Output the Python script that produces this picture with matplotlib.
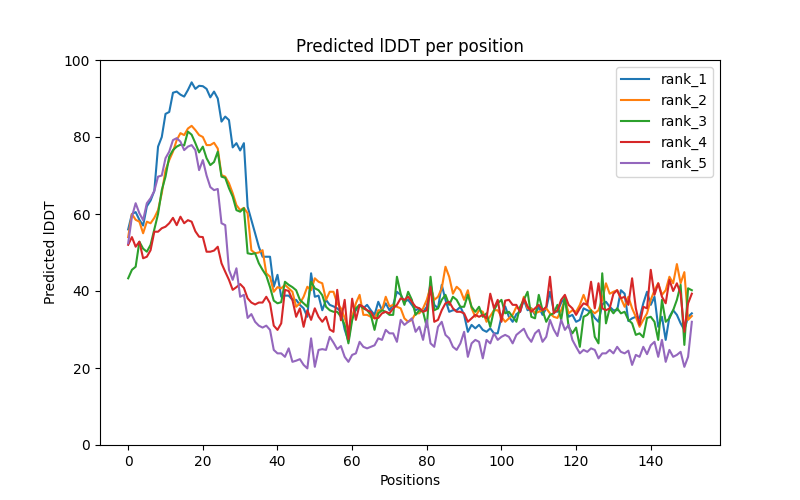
import matplotlib
matplotlib.use("Agg")
import matplotlib.pyplot as plt
import numpy as np

labels = ["rank_1", "rank_2", "rank_3", "rank_4", "rank_5"]

rank_1 = [
    56, 60, 60.5, 58.5, 57, 62, 63.5, 66, 77.5, 80,
    86, 86.5, 91.5, 91.8, 91, 90.5, 92.2, 94.2, 92.5, 93.3,
    93.2, 92.5, 90.3, 91.8, 90, 84, 85.3, 84.4, 77.3, 78.4,
    76.5, 78.4, 61.9, 58.5, 55, 51.5, 48.9, 48.9, 48.9, 41.1,
    44.2, 38.5, 38.8, 38.8, 37.7, 37.7, 36.4, 35.5, 33.3, 44.6,
    38.5, 38.8, 35, 37.7, 36.4, 36, 35.5, 34.6, 30, 27,
    33.5, 35, 36.4, 35.5, 36.4, 35, 33.8, 37.2, 35, 36.8,
    35, 36.4, 39.8, 39, 37.2, 37.7, 36.4, 35, 35.5, 34.6,
    35.9, 42, 36.4, 35.5, 41.6, 37.7, 34.6, 35, 35, 35.9,
    33.8, 29.4, 31.2, 30.3, 31.2, 29.9, 29.4, 30.3, 29, 29,
    33.3, 36, 33.3, 32, 34, 34.6, 37.7, 35, 35.5, 33.8,
    35.9, 33.8, 35.5, 39.8, 35, 34.6, 37, 38.1, 33.3, 33.8,
    32, 32.5, 35.5, 35, 34.6, 33, 32, 36.5, 37.2, 35.9,
    35, 35, 40.2, 39.3, 32.2, 32.9, 33.3, 32.9, 36.8, 39.8,
    36.4, 38.5, 30.7, 33.3, 27.3, 33.3, 35, 33.8, 31.6, 29.9,
    33.3, 34.2,
]

rank_2 = [
    54, 60, 58.5, 58, 55, 58, 57.6, 59, 61, 65.4,
    71.4, 74, 76.2, 79.2, 81, 80.5, 82.2, 82.9, 81.8, 80.5,
    80, 77.9, 77.9, 78.5, 77, 70.1, 69.7, 68, 65.4, 62.3,
    61, 61.6, 60.2, 50.6, 49.8, 50, 50.6, 44.6, 43.7, 39.8,
    41, 40.7, 41.6, 40.7, 39.8, 35.9, 36.8, 38.5, 41.1, 40.2,
    43.3, 42.4, 42, 37.7, 39.8, 39.8, 36.8, 35.5, 33, 29.9,
    33.3, 36.8, 39, 33.8, 33.8, 33.3, 32.9, 35, 35, 38.5,
    36, 36.4, 35.9, 35.5, 32.9, 32, 32.5, 34.2, 34.2, 35.5,
    37.7, 41.1, 37.7, 38.5, 40.7, 46.3, 43.7, 39.3, 41.1, 40.2,
    37.7, 40.2, 35.5, 33.3, 35, 34.6, 32, 33.5, 35, 35,
    33.3, 32, 32.9, 33.8, 35.9, 35, 38.5, 35.5, 35.5, 34.2,
    34.6, 35, 35.5, 34.2, 33.3, 33, 35, 37.7, 34.2, 35,
    34.6, 36.4, 39, 36.4, 35, 34.2, 35, 37.7, 42, 39.3,
    39.8, 40.2, 38.1, 35.9, 38.5, 35.5, 33.3, 30.7, 32.5, 34.2,
    37.7, 40.2, 42, 39, 40.2, 43.7, 42, 47, 42, 44.9,
    32.5, 33.5,
]

rank_3 = [
    43.3, 45.5, 46.3, 52.8, 51, 50.2, 52, 56, 60, 66.2,
    69.7, 74.9, 76.6, 77.5, 78, 77.8, 81.4, 80.6, 78.4, 76,
    77.5, 74.5, 72.7, 73.5, 76.2, 69.7, 69.4, 66.7, 64.5, 61,
    60.6, 61.5, 49.8, 49.6, 49.8, 47.2, 45.5, 44, 41, 37.5,
    36.8, 37.1, 42.4, 41.6, 41, 40.2, 37.7, 36.8, 35.9, 42.4,
    40.7, 40.2, 38.9, 35.9, 35, 34.6, 34.6, 33.3, 31.2, 26.4,
    32.4, 35.5, 36.4, 35.5, 35, 33.8, 29.9, 34.2, 35, 34.6,
    33.8, 33.8, 43.7, 39.3, 36.4, 39.8, 37.7, 33.8, 35, 34.6,
    30.7, 43.7, 35, 35.5, 37.7, 39, 36.4, 38.5, 37.7, 35.9,
    35.9, 39, 35.9, 34.6, 35.9, 33.3, 34.2, 30.7, 35, 36.8,
    37.7, 34.2, 34.6, 33.3, 32, 35.9, 37.7, 39.8, 33.3, 32.9,
    39, 35, 32, 33.8, 34.2, 36.4, 32.5, 38.5, 30.7, 29,
    30.5, 25.5, 33.3, 33.8, 35, 28.1, 26.4, 44.6, 31.6, 35.5,
    34.2, 35.5, 34.2, 34.6, 32.5, 31.6, 28.6, 29, 28, 33,
    33.3, 32, 27.3, 37.7, 32, 32.9, 35, 37.7, 41.6, 26,
    40.7, 40.2,
]

rank_4 = [
    52, 54, 51.5, 52.8, 48.5, 48.9, 50.6, 55.4, 55.4, 56.3,
    56.7, 57.6, 59, 57.1, 59.3, 57.6, 58.4, 58, 55.5, 54.1,
    54, 50.2, 50.2, 50.5, 51.5, 47.2, 45, 42.9, 40.3, 41,
    41.8, 40.8, 38.1, 37, 36.5, 37, 37, 38.5, 36.8, 31,
    29.9, 31.6, 40.3, 40, 37.7, 33.3, 35.5, 30.7, 35, 32.5,
    35.5, 33.3, 32, 33.3, 30, 29.4, 40.3, 32.4, 37.7, 27.5,
    38, 32.5, 36.4, 35.9, 35, 34.6, 32.9, 33, 34.2, 34.6,
    34.2, 35.5, 36.4, 38.1, 37.7, 38.5, 37.2, 35.9, 35.5, 34.6,
    35, 41.1, 32, 32.5, 35, 36.8, 37.2, 35.5, 34.6, 34.6,
    34.2, 32, 32.9, 33.8, 33.3, 33.8, 32.9, 39.3, 35.5, 37.7,
    32, 37.5, 37.7, 36.4, 36.4, 34.6, 38.1, 36, 34.6, 35.5,
    36.4, 35, 35.9, 43.7, 34.2, 35, 37.7, 39, 36.4, 35.5,
    33.8, 35.5, 36.8, 36.4, 42.4, 35.5, 42, 35.5, 35, 35.5,
    39.3, 40.2, 38.1, 38.5, 36.4, 43.3, 35.5, 31.2, 35.9, 35.5,
    45.5, 39, 42, 38.5, 36.8, 42.9, 40, 42, 39.3, 29.4,
    36.8, 39.3,
]

rank_5 = [
    52.4, 59.3, 62.8, 60.2, 58.4, 62.8, 64.1, 66, 69.7, 70,
    74.5, 76.2, 79.2, 79.7, 78.8, 76.6, 77.5, 77.9, 76.6, 71.4,
    74, 70, 67, 66.2, 66.5, 57.6, 57.1, 45.5, 42.9, 45.9,
    38.5, 39, 33, 34, 32, 31, 30.5, 31, 29.9, 24.7,
    23.8, 23.8, 22.9, 25.1, 21.6, 21.9, 22.3, 20.8, 19.9, 27.7,
    20.3, 24.7, 24.9, 24.7, 28.1, 26.6, 24.9, 25.7, 22.9, 21.6,
    23.4, 23.8, 26.8, 25.5, 25.1, 25.5, 25.9, 27.7, 27.3, 29.9,
    29, 29, 26.8, 32.5, 31.2, 32, 32.9, 29.4, 30.7, 27.3,
    32.5, 26.4, 25.5, 30.7, 32, 28.6, 27.7, 25.5, 24.7, 26.4,
    29.4, 22.9, 26.4, 27.3, 26.8, 22.5, 27.3, 26.4, 29, 27.3,
    28.1, 28.6, 28.1, 26.4, 28.6, 29.4, 30.2, 28.1, 26.8, 29,
    29.9, 26.8, 28.1, 32.5, 30, 28.3, 32.5, 29.9, 31.2, 27.3,
    25.5, 23.8, 24.7, 24.2, 25.1, 24.7, 22.5, 23.8, 23.8, 24.7,
    23.8, 25.5, 24.2, 23.8, 24.5, 20.8, 23.4, 22.9, 25.5, 23.6,
    25.9, 26.8, 22.9, 27.3, 21.6, 24.7, 22.9, 23.4, 24.2, 20.3,
    22.9, 32,
]

series = [rank_1, rank_2, rank_3, rank_4, rank_5]

fig, ax = plt.subplots(figsize=(8, 5), dpi=100)
for lab, vals in zip(labels, series):
    ax.plot(np.arange(len(vals)), vals, label=lab)
ax.set_ylim(0, 100)
ax.set_title("Predicted lDDT per position")
ax.set_xlabel("Positions")
ax.set_ylabel("Predicted lDDT")
ax.legend(loc="upper right")
fig.savefig("out.png", dpi=100)
